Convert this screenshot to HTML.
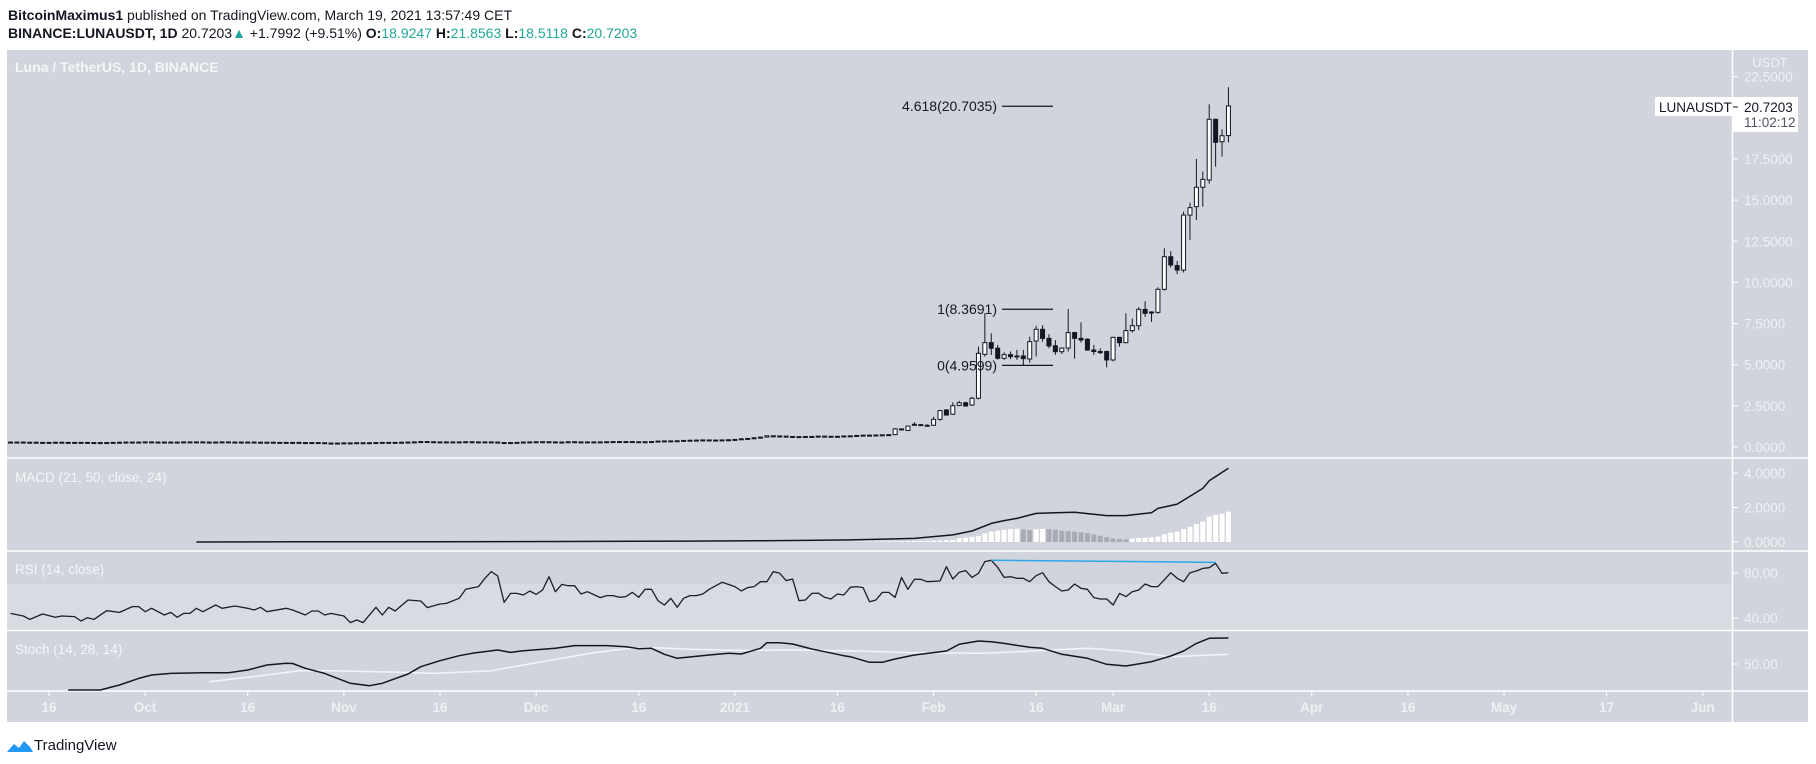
<!DOCTYPE html>
<html><head><meta charset="utf-8">
<style>
html,body{margin:0;padding:0;background:#fff;width:1816px;height:764px;overflow:hidden}
svg text{font-family:"Liberation Sans",sans-serif}
</style></head>
<body>
<svg id="c" width="1816" height="764" xmlns="http://www.w3.org/2000/svg">
<text x="8" y="20" font-size="14" fill="#131722"><tspan font-weight="bold">BitcoinMaximus1</tspan> published on TradingView.com, March 19, 2021 13:57:49 CET</text>
<text x="8" y="38" font-size="14" fill="#131722"><tspan font-weight="bold">BINANCE:LUNAUSDT, 1D</tspan> 20.7203<tspan fill="#22a699">▲</tspan> +1.7992 (+9.51%) <tspan font-weight="bold">O:</tspan><tspan fill="#22a699">18.9247</tspan> <tspan font-weight="bold">H:</tspan><tspan fill="#22a699">21.8563</tspan> <tspan font-weight="bold">L:</tspan><tspan fill="#22a699">18.5118</tspan> <tspan font-weight="bold">C:</tspan><tspan fill="#22a699">20.7203</tspan></text>
<rect x="7" y="50" width="1801" height="672" fill="#d1d4dc"/>
<rect x="7" y="584" width="1725" height="46" fill="#d9dbe2"/>
<g stroke="#fff" stroke-width="1.5">
<line x1="7" y1="458" x2="1808" y2="458"/><line x1="7" y1="551" x2="1808" y2="551"/>
<line x1="7" y1="630.5" x2="1808" y2="630.5"/><line x1="7" y1="691" x2="1808" y2="691"/>
<line x1="1732.5" y1="50" x2="1732.5" y2="722"/>
</g>
<text x="15" y="72" font-size="14" font-weight="bold" fill="#f4f5f7">Luna / TetherUS, 1D, BINANCE</text>
<text x="15" y="482" font-size="13.5" fill="#f4f5f7">MACD (21, 50, close, 24)</text>
<text x="15" y="574" font-size="13.5" fill="#f4f5f7">RSI (14, close)</text>
<text x="15" y="654" font-size="13.5" fill="#f4f5f7">Stoch (14, 28, 14)</text>
<g id="g"></g>
<g>
<path d="M7 752 L14 744 L19 748 L24 741 L30 747 L33 752 Z" fill="#2196f3"/>
<text x="34" y="750" font-size="15" fill="#131722">TradingView</text>
</g>
</svg>
<script>
// ---- data ----
const earlyCloses=[0.30,0.29,0.30,0.28,0.29,0.28,0.27,0.28,0.29,0.28,0.27,0.28,0.28,0.27,0.26,0.27,0.26,0.28,0.29,0.30,0.29,0.30,0.31,0.30,0.29,0.30,0.29,0.30,0.31,0.30,0.31,0.30,0.29,0.30,0.31,0.30,0.30,0.29,0.30,0.29,0.28,0.29,0.28,0.28,0.27,0.28,0.27,0.26,0.27,0.26,0.23,0.24,0.23,0.25,0.24,0.26,0.25,0.26,0.27,0.28,0.27,0.28,0.29,0.30,0.31,0.33,0.32,0.31,0.30,0.31,0.30,0.31,0.32,0.31,0.30,0.31,0.30,
0.26,0.27,0.26,0.28,0.30,0.31,0.32,0.32,0.31,0.30,0.30,0.32,0.31,0.30,0.31,0.30,0.31,0.32,0.33,0.32,0.33,0.32,0.31,0.32,0.33,0.36,0.37,0.36,0.38,0.40,0.41,0.42,0.43,0.42,0.41,0.43,0.44,0.46,0.50,0.52,0.56,0.60,0.68,0.67,0.66,0.64,0.63,0.62,0.64,0.63,0.66,0.65,0.64,0.65,0.67,0.68,0.70,0.72,0.70,0.73,0.74,0.75];
const firstDay=-7;
const recentO=[0.75,1.10,1.00,1.35,1.36,1.32,1.32,1.68,2.25,1.99,2.53,2.69,2.55,2.96,5.63,6.34,6.00,5.39,5.61,5.53,5.53,5.35,6.44,7.15,6.60,6.15,5.79,6.01,6.95,6.60,6.55,5.89,5.80,5.80,5.29,6.66,6.34,7.07,7.37,8.36,8.20,8.18,9.58,11.56,11.02,10.75,14.09,14.60,15.78,16.22,19.91,18.55,18.92];
const recentH=[1.15,1.12,1.30,1.50,1.40,1.38,1.84,2.25,2.30,2.71,2.80,2.75,3.05,6.10,8.12,6.90,6.20,5.75,5.80,5.90,5.90,6.70,7.37,7.40,6.85,6.50,6.05,8.38,7.00,7.57,6.60,6.20,6.00,5.85,6.70,6.70,8.12,7.80,8.50,8.85,8.25,9.70,12.07,11.90,11.30,14.30,14.84,17.50,16.73,20.82,19.95,19.30,21.86];
const recentL=[0.72,1.00,0.98,1.30,1.30,1.27,1.28,1.60,1.92,1.95,2.48,2.45,2.50,2.90,5.50,5.59,5.30,5.30,5.35,5.30,4.96,5.12,5.50,6.40,6.00,5.60,5.65,5.80,5.37,6.35,5.85,5.60,5.65,4.84,5.20,6.10,6.30,6.95,7.10,7.90,7.60,8.10,9.50,10.90,10.50,10.60,12.58,13.79,14.60,16.00,17.03,17.64,18.51];
const recentC=[1.10,1.05,1.27,1.38,1.34,1.30,1.68,2.21,1.94,2.51,2.69,2.49,2.96,5.69,6.34,6.00,5.39,5.61,5.49,5.53,5.37,6.40,7.15,6.60,6.14,5.79,6.01,6.95,6.60,6.50,5.89,5.80,5.73,5.29,6.66,6.34,7.07,7.37,8.36,8.12,8.18,9.58,11.56,11.06,10.75,14.09,14.54,15.78,16.26,19.91,18.51,18.91,20.72];
const recentFirstDay=132;
const macdDays=[23,40,60,80,100,110,118,125,135,141,144,147,149,151,154,157,160,165,168,172,173,176,180,181,184];
const macdVals=[0,0.01,0.02,0.03,0.05,0.07,0.09,0.12,0.21,0.41,0.64,1.08,1.24,1.37,1.66,1.70,1.72,1.53,1.53,1.70,1.95,2.20,3.11,3.55,4.27];
const histVals=[0.02,0.02,0.03,0.03,0.03,0.04,0.04,0.05,0.05,0.06,0.06,0.07,0.08,0.09,0.10,0.12,0.21,0.25,0.29,0.35,0.50,0.60,0.66,0.70,0.74,0.76,0.73,0.70,0.74,0.76,0.75,0.71,0.66,0.62,0.60,0.57,0.52,0.44,0.36,0.28,0.20,0.17,0.15,0.19,0.22,0.25,0.27,0.31,0.45,0.54,0.60,0.75,0.89,1.04,1.18,1.47,1.57,1.64,1.76];
const histFirstDay=126;
const rsiDays=[-6,-4,-3,-1,1,2,4,5,6,7,9,11,13,14,15,16,18,19,20,21,22,23,24,26,27,29,31,32,33,34,37,38,40,41,42,43,44,46,47,48,49,51,52,53,54,56,58,59,61,62,64,65,67,68,69,70,71,72,73,74,75,76,77,78,79,80,81,82,83,84,86,87,88,89,90,91,92,93,94,95,96,97,98,99,100,101,102,103,105,107,108,109,110,111,112,113,114,115,116,117,118,119,120,121,122,123,124,125,126,127,128,129,130,131,132,133,134,135,136,137,139,140,141,142,143,144,145,146,147,148,149,150,151,152,153,154,155,156,157,158,159,160,161,162,163,164,165,166,167,168,169,170,171,172,173,174,175,176,177,178,179,180,181,182,183,184];
const rsiVals=[44.1,41.8,38.8,43.6,40.6,41.8,41.2,37.3,40.3,38.8,46.5,45,50.1,50.1,45.6,48.6,42.7,45,40.6,44.1,44.1,48.6,45.6,51.6,48.6,50.7,48.6,47.1,49.5,45.6,48.6,47.1,42.7,46.2,46.2,42.7,44.1,41.8,35.9,38.2,35.9,49.5,42.7,49.5,46.2,56,55.1,49.2,52.4,53,57.5,65.5,67.9,75.3,81.2,77.3,53.9,61.9,61.9,60.4,64,61,64.9,76.7,63.4,69.9,68.7,68.7,61.3,63.4,58.1,59.9,59.9,58.4,59,62.8,58.4,65.5,65.5,55.4,51.6,57.5,49.5,57.5,59.9,59.9,61.3,65.5,71.7,67.9,64,67,67.9,72.3,72.3,81.2,79.7,73.2,74.7,55.4,56,61.9,62.1,58.4,56.9,61.3,60.4,67.3,67.9,67,54.5,56,62.8,62.8,58.4,76.1,65.5,74.4,74.4,72.3,72.9,85.6,74.7,80.6,82.1,76.1,79.7,90.1,91.3,85,76.1,76.7,75.3,75.3,72.3,77.6,80.3,72.3,67.9,64,64.9,70.2,66.4,65.5,58.1,56.9,56.9,51.6,61.9,59,63.4,64.9,70.2,67.9,67.9,74,80.3,75.3,72.3,80.3,81.8,84.1,84.7,88.6,79.7,80.3,83.3];
const stochKDays=[3,8,11,14,16,19,24,28,31,34,37,38,40,43,47,50,52,56,58,61,64,66,70,72,74,79,82,85,87,90,92,94,96,98,103,106,108,111,112,114,116,119,121,124,125,128,130,132,135,140,142,145,147,149,153,155,158,162,165,168,172,175,177,179,181,184];
const stochKVals=[0,0,9.6,22.4,28.8,32,33.3,33.3,38.5,48,51.3,51,41.7,32,12.8,8.3,12.8,30.8,44.9,56.4,66,70.5,76.9,72.4,75.6,80.1,85.3,85.3,85.3,83.3,79.5,80.1,68.6,60.9,67.3,70.5,69.2,80.1,91,91,88.5,78.8,73.7,66,64,53.2,53.2,59.6,67.3,75,87.8,94.2,92.9,89.7,82.1,80.1,68.6,60.9,49.4,46.2,54.5,65.4,75,89.7,99.4,100];
const stochDDays=[25,34,39,44,55,60,69,74,80,85,90,95,100,106,111,116,126,135,146,162,168,172,175,184];
const stochDVals=[16,28.8,37.2,37.2,34,32,37.2,48,60.9,71.8,79.5,81.4,78.2,76.3,76.3,76.9,75,71.8,70.5,80.1,75,68.6,64,68.6];
const priceTicks=[0,2.5,5,7.5,10,12.5,15,17.5,22.5];
const macdTicks=[0,2,4];
const rsiTicks=[40,80];
const stochTicks=[50];
const timeTickDays=[0,15,31,46,61,76,92,107,123,138,154,166,181,197,212,227,243,258];
const timeTickLabels=["16","Oct","16","Nov","16","Dec","16","2021","16","Feb","16","Mar","16","Apr","16","May","17","Jun"];
const fibLevels=[20.7035,8.3691,4.9599];
const fibLabels=["4.618(20.7035)","1(8.3691)","0(4.9599)"];

// ---- scales ----
const X=d=>49+d*6.41;
const YP=p=>447-p*16.46;
const YM=v=>542-v*17.25;
const YR=v=>573-(v-80)*1.125;
const YS=v=>690-v*0.52;
const NS="http://www.w3.org/2000/svg";
const G=document.getElementById('g');
function mk(t,a,p){const e=document.createElementNS(NS,t);for(const k in a)e.setAttribute(k,a[k]);(p||G).appendChild(e);return e;}

// candles
const pg=mk('g',{});


function candle(d,o,h,l,c){
  const x=X(d),up=c>=o;
  const w=mk('line',{x1:x,x2:x,y1:YP(h),y2:YP(l),stroke:'#131722','stroke-width':1},pg);
  
  
  const t=YP(Math.max(o,c)),b=YP(Math.min(o,c));
  const r=mk('rect',{x:x-2,y:t,width:4,height:Math.max(1,b-t),fill:up?'#fff':'#131722',stroke:'#131722','stroke-width':1},pg);
  
  
}
for(let i=1;i<earlyCloses.length;i++){
  const o=earlyCloses[i-1],c=earlyCloses[i];
  candle(firstDay+i,o,Math.max(o,c)+0.02,Math.min(o,c)-0.02,c);
}
for(let i=0;i<recentC.length;i++)candle(recentFirstDay+i,recentO[i],recentH[i],recentL[i],recentC[i]);

// fib
fibLevels.forEach((v,i)=>{
  const y=YP(v);
  const l=mk('line',{x1:1002,x2:1053,y1:y,y2:y,stroke:'#131722','stroke-width':1.2});
  
  
  const t=mk('text',{x:997,y:y+5,'font-size':14,fill:'#131722','text-anchor':'end'});
  t.textContent=fibLabels[i];
  
  
});

function poly(days,vals,ys,color,w,name){
  const pts=days.map((d,i)=>X(d).toFixed(1)+','+ys(vals[i]).toFixed(1)).join(' ');
  const p=mk('polyline',{points:pts,fill:'none',stroke:color,'stroke-width':w,'stroke-linejoin':'round'});
  
  
}
// macd histogram
histVals.forEach((v,i)=>{
  const prev=i?histVals[i-1]:0;
  const r=mk('rect',{x:X(histFirstDay+i)-2.5,y:YM(v),width:5,height:YM(0)-YM(v),fill:v>=prev?'#ffffff':'#a9abb4'});
  
  
});
poly(macdDays,macdVals,YM,'#131722',1.5,'macd-line');
poly(rsiDays,rsiVals,YR,'#1e1e24',1.3,'rsi-line');
const tl=mk('line',{x1:X(147),y1:YR(91.3),x2:X(182),y2:YR(89.5),stroke:'#2ea8e8','stroke-width':1.5});


poly(stochDDays,stochDVals,YS,'#f4f5f7',1.5,'stoch-d-line');
poly(stochKDays,stochKVals,YS,'#131722',1.5,'stoch-k-line');

// axes
function yTicks(ticks,ys,fmt,name){
  ticks.forEach(v=>{
    const y=ys(v);
    mk('line',{x1:1733,x2:1738,y1:y,y2:y,stroke:'#fff'});
    const t=mk('text',{x:1744,y:y+5,'font-size':13.5,fill:'#eef0f3'});
    t.textContent=v.toFixed(fmt);
    
    
  });
}
yTicks(priceTicks,YP,4,'price-tick-label');
yTicks(macdTicks,YM,4,'macd-tick-label');
yTicks(rsiTicks,YR,2,'rsi-tick-label');
yTicks(stochTicks,YS,2,'stoch-tick-label');
timeTickDays.forEach((d,i)=>{
  const x=X(d);
  mk('line',{x1:x,x2:x,y1:691,y2:696,stroke:'#fff'});
  const t=mk('text',{x:x,y:712,'font-size':13.5,'font-weight':'bold',fill:'#eef0f3','text-anchor':'middle'});
  t.textContent=timeTickLabels[i];
  
  
});
// USDT header + price tag
const uh=mk('rect',{x:1740,y:54,width:60,height:17,fill:'#d1d4dc'});
const ut=mk('text',{x:1770,y:67,'font-size':13,fill:'#eef0f3','text-anchor':'middle'});ut.textContent='USDT';


const tg=mk('g',{});


mk('rect',{x:1655,y:97,width:78,height:19,fill:'#fff'},tg);
mk('rect',{x:1733,y:97,width:65,height:35,fill:'#fff'},tg);
const a=mk('text',{x:1659,y:112,'font-size':13.5,fill:'#131722'},tg);a.textContent='LUNAUSDT';
mk('line',{x1:1733,x2:1738,y1:107,y2:107,stroke:'#131722'},tg);
const b=mk('text',{x:1744,y:112,'font-size':13.5,fill:'#131722'},tg);b.textContent='20.7203';
const c=mk('text',{x:1744,y:127,'font-size':13.5,fill:'#50535e'},tg);c.textContent='11:02:12';
</script>
</body></html>
